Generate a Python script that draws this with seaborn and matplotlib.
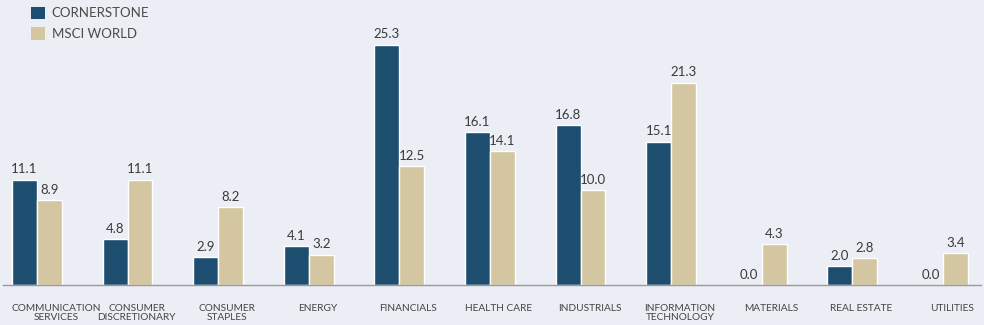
import matplotlib
matplotlib.use("Agg")
import matplotlib.pyplot as plt
import matplotlib.transforms as mtransforms
import seaborn as sns
import pandas as pd
from matplotlib.patches import Patch

categories = ["COMMUNICATION\nSERVICES", "CONSUMER\nDISCRETIONARY", "CONSUMER\nSTAPLES",
              "ENERGY", "FINANCIALS", "HEALTH CARE", "INDUSTRIALS",
              "INFORMATION\nTECHNOLOGY", "MATERIALS", "REAL ESTATE", "UTILITIES"]
cornerstone = [11.1, 4.8, 2.9, 4.1, 25.3, 16.1, 16.8, 15.1, 0.0, 2.0, 0.0]
msci_world = [8.9, 11.1, 8.2, 3.2, 12.5, 14.1, 10.0, 21.3, 4.3, 2.8, 3.4]
series = ["CORNERSTONE", "MSCI WORLD"]
colors = ["#1D4E70", "#D3C6A1"]

df = pd.DataFrame({
    "sector": categories * 2,
    "value": cornerstone + msci_world,
    "series": [series[0]] * len(categories) + [series[1]] * len(categories),
})

sns.set_theme(style="white")
plt.rcParams["font.family"] = ["Lato", "DejaVu Sans"]
bg = "#EBEEF5"
fig = plt.figure(figsize=(9.84, 3.25), dpi=100, facecolor=bg)
ax = fig.add_axes([3 / 984, 40 / 325, 978 / 984, 285 / 325])
ax.set_facecolor(bg)

sns.barplot(data=df, x="sector", y="value", hue="series", palette=colors,
            width=0.55, gap=0, saturation=1, ax=ax, legend=False)

for cont in ax.containers:
    ax.bar_label(cont, fmt="%.1f", padding=3, fontsize=9.5, color="#3a3a3a")

ax.set_xlim(-0.375, 10.42)
ax.set_ylim(0, 30)
ax.set_xlabel("")
ax.set_ylabel("")
ax.set_yticks([])
ax.tick_params(axis="x", length=0, pad=13.5, labelsize=7.3, labelcolor="#444444")
for i, lab in enumerate(ax.get_xticklabels()):
    dx = 19 if i == 0 else 9
    lab.set_linespacing(1.0)
    lab.set_transform(lab.get_transform() +
                      mtransforms.ScaledTranslation(dx / 100, 0, fig.dpi_scale_trans))
for s in ["top", "right", "left"]:
    ax.spines[s].set_visible(False)
ax.spines["bottom"].set_color("#9a9a9a")
ax.spines["bottom"].set_linewidth(1)

handles = [Patch(facecolor=c, edgecolor="none") for c in colors]
fig.legend(handles, series, loc="upper left", bbox_to_anchor=(24 / 984, 1.0),
           frameon=False, fontsize=9.5, labelcolor="#4a4a4a",
           handlelength=1.1, handleheight=1.1, handletextpad=0.5, labelspacing=0.6,
           borderaxespad=0.1)

fig.savefig("out.png", dpi=100, facecolor=bg)
